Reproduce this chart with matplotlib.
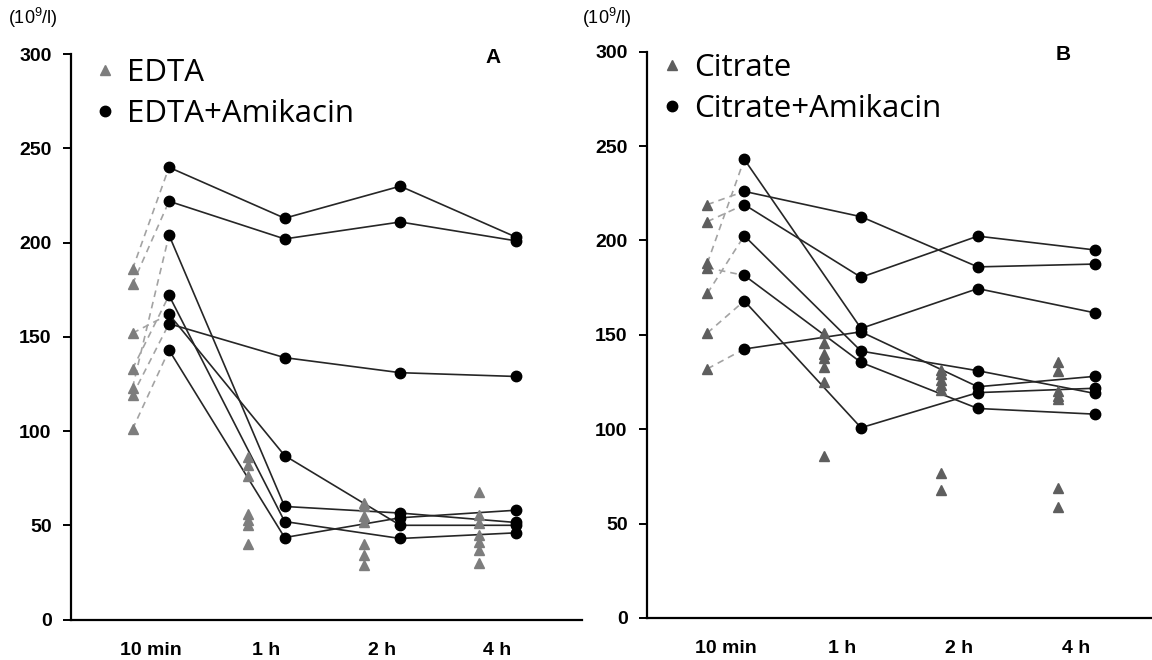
import matplotlib
matplotlib.use("Agg")

import matplotlib.pyplot as plt
from matplotlib.lines import Line2D
import numpy as np

plt.rcParams['font.family'] = ['Liberation Sans', 'DejaVu Sans']
plt.rcParams['mathtext.default'] = 'regular'

# time points
times = ["10 min", "1 h", "2 h", "4 h"]

# panel A - EDTA alone (triangles), per time point
edta_10min = [186, 178, 152, 133, 123, 119, 101]
edta_1h = [86, 82, 76, 56, 53, 50, 40]
edta_2h = [62, 60, 55, 52, 40, 34, 29]
edta_4h = [67.5, 55.5, 51, 45, 41, 37, 30]

# panel A - EDTA+Amikacin (circles), one row per sample: 10 min, 1 h, 2 h, 4 h
edta_amik = [
    [240, 213, 230, 203],
    [222, 202, 211, 201],
    [162, 87, 50, 50],
    [172, 52, 43, 46],
    [204, 60, 56.5, 51.5],
    [157, 139, 131, 129],
    [143, 43.5, 54, 58],
]

# panel B - Citrate alone (triangles)
citrate_10min = [219, 210, 188, 185.5, 172, 151, 132]
citrate_1h = [151, 145.5, 140, 138, 133, 125, 86]
citrate_2h = [131.5, 129, 126, 123.5, 121, 77, 68]
citrate_4h = [135.5, 131, 120, 117.5, 116, 69, 59]

# panel B - Citrate+Amikacin (circles)
citrate_amik = [
    [226, 212.6, 186, 187.5],
    [219, 180.5, 202.3, 195],
    [243, 153.4, 174.5, 161.7],
    [181.5, 135.4, 111, 108],
    [202.5, 141.4, 131, 119],
    [168, 100.8, 119.4, 121.7],
    [142.5, 151.6, 122.5, 128],
]

W, H = 1152, 660
dx = 0.158


def draw_panel(ax, tri_lists, circ_rows, tri_color, xlim, letter, leg_labels, leg_pos):
    x = np.arange(len(times))
    # dashed link: alone -> with amikacin at 10 min
    for s, row in enumerate(circ_rows):
        ax.plot([x[0] - dx, x[0] + dx], [tri_lists[0][s], row[0]],
                color="#a3a3a3", lw=1.2, dashes=(4, 3), zorder=1)
    # solid lines over time
    for row in circ_rows:
        ax.plot(x + dx, row, color="#262626", lw=1.2, zorder=2)
    # triangles
    for t, vals in enumerate(tri_lists):
        ax.plot(np.full(len(vals), x[t] - dx), vals, ls="none", marker="^",
                ms=7.5, color=tri_color, mec=tri_color, zorder=3)
    # circles
    for row in circ_rows:
        ax.plot(x + dx, row, ls="none", marker="o", ms=7.5,
                color="black", zorder=4)

    ax.set_xlim(*xlim)
    ax.set_ylim(0, 300)
    ax.set_yticks([0, 50, 100, 150, 200, 250, 300])
    ax.set_xticks(x)
    ax.set_xticklabels(times)
    for sp in ["top", "right"]:
        ax.spines[sp].set_visible(False)
    for sp in ["left", "bottom"]:
        ax.spines[sp].set_linewidth(1.6)
    ax.tick_params(axis="y", length=6, width=1.4, pad=8, labelsize=14)
    ax.tick_params(axis="x", length=0, pad=16, labelsize=14)
    for lab in ax.get_xticklabels() + ax.get_yticklabels():
        lab.set_fontweight("bold")

    ax.text(0.825, 0.995, letter, transform=ax.transAxes, fontsize=15,
            fontweight="bold", ha="center", va="center")

    handles = [
        Line2D([], [], ls="none", marker="^", ms=7, color=tri_color),
        Line2D([], [], ls="none", marker="o", ms=7.5, color="black"),
    ]
    fig.legend(handles, leg_labels, loc="upper left",
               bbox_to_anchor=(leg_pos[0] / W, 1 - leg_pos[1] / H),
               bbox_transform=fig.transFigure, frameon=False,
               prop={"family": ["Open Sans", "DejaVu Sans"], "size": 22.5},
               handlelength=1.0, handletextpad=0.22, borderpad=0,
               borderaxespad=0, labelspacing=0.36)


fig = plt.figure(figsize=(W / 100, H / 100), dpi=100)

axA = fig.add_axes([71 / W, (H - 619.5) / H, 511 / W, (619.5 - 54.3) / H])
axB = fig.add_axes([647 / W, (H - 618) / H, 505 / W, (618 - 51.7) / H])

draw_panel(axA, [edta_10min, edta_1h, edta_2h, edta_4h], edta_amik,
           "#7d7d7d", (-0.69, 3.73), "A", ["EDTA", "EDTA+Amikacin"], (89, 58))
draw_panel(axB, [citrate_10min, citrate_1h, citrate_2h, citrate_4h], citrate_amik,
           "#5e5e5e", (-0.675, 3.65), "B", ["Citrate", "Citrate+Amikacin"], (656, 53))

fig.text(8 / W, 1 - 18 / H, "(10$^9$/l)", fontsize=13, ha="left", va="center")
fig.text(582 / W, 1 - 18 / H, "(10$^9$/l)", fontsize=13, ha="left", va="center")

fig.savefig("out.png", dpi=100)
